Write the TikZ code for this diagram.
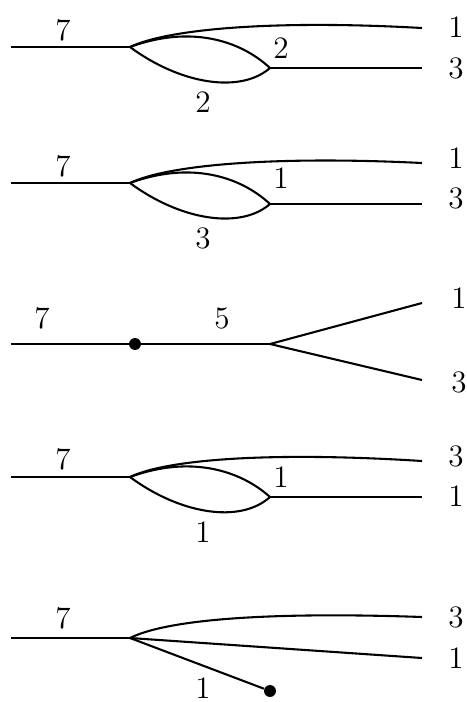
\documentclass[tikz,border=0pt]{standalone}
\usepackage{tikz}
\usetikzlibrary{calc, positioning}

\begin{document}
\begin{tikzpicture}[
  x=0.385pt, y=-0.385pt,
  leg/.style={line width=0.8pt},
  lbl/.style={inner sep=0pt, font=\fontsize{13}{15}\selectfont},
  blob/.style={circle, fill, inner sep=0pt, minimum size=4.6pt}
]
\useasboundingbox (0,0) rectangle (466,702);

% diagram 1
\coordinate (a0) at (11,47);
\coordinate (a1) at (130,47);
\coordinate (a2) at (270,68);
\coordinate (a3) at (422,28);
\coordinate (a4) at (422,68);
\draw[leg] (a0) -- (a1);
\draw[leg] (a1) .. controls (170,28) and (280,20) .. (a3);
\draw[leg] (a1) .. controls (190,25) and (240,40) .. (a2);
\draw[leg] (a1) .. controls (180,84) and (240,94) .. (a2);
\draw[leg] (a2) -- (a4);
\node[lbl] (la0) at (63,30) {$7$};
\node[lbl] (la1) at (281,48) {$2$};
\node[lbl] (la2) at (203,102) {$2$};
\node[lbl] (la3) at (456,27) {$1$};
\node[lbl] (la4) at (456,68) {$3$};

% diagram 2
\coordinate (b0) at (11,183);
\coordinate (b1) at (130,183);
\coordinate (b2) at (270,204);
\coordinate (b3) at (422,163);
\coordinate (b4) at (422,204);
\draw[leg] (b0) -- (b1);
\draw[leg] (b1) .. controls (170,164) and (280,156) .. (b3);
\draw[leg] (b1) .. controls (190,161) and (240,176) .. (b2);
\draw[leg] (b1) .. controls (180,220) and (240,230) .. (b2);
\draw[leg] (b2) -- (b4);
\node[lbl] (lb0) at (63,166) {$7$};
\node[lbl] (lb1) at (281,178) {$1$};
\node[lbl] (lb2) at (203,238) {$3$};
\node[lbl] (lb3) at (456,158) {$1$};
\node[lbl] (lb4) at (456,198) {$3$};

% diagram 3
\coordinate (c0) at (11,344);
\node[blob] (c1) at (135,344) {};
\coordinate (c2) at (270,344);
\coordinate (c3) at (422,303);
\coordinate (c4) at (422,380);
\draw[leg] (c0) -- (c1) -- (c2);
\draw[leg] (c2) -- (c3);
\draw[leg] (c2) -- (c4);
\node[lbl] (lc0) at (42,318) {$7$};
\node[lbl] (lc1) at (222,318) {$5$};
\node[lbl] (lc3) at (459,298) {$1$};
\node[lbl] (lc4) at (459,382) {$3$};

% diagram 4
\coordinate (d0) at (11,477);
\coordinate (d1) at (130,477);
\coordinate (d2) at (270,497);
\coordinate (d3) at (422,461);
\coordinate (d4) at (422,497);
\draw[leg] (d0) -- (d1);
\draw[leg] (d1) .. controls (170,458) and (280,452) .. (d3);
\draw[leg] (d1) .. controls (190,455) and (240,470) .. (d2);
\draw[leg] (d1) .. controls (180,514) and (240,524) .. (d2);
\draw[leg] (d2) -- (d4);
\node[lbl] (ld0) at (63,459) {$7$};
\node[lbl] (ld1) at (281,477) {$1$};
\node[lbl] (ld2) at (203,532) {$1$};
\node[lbl] (ld3) at (456,456) {$3$};
\node[lbl] (ld4) at (456,496) {$1$};

% diagram 5
\coordinate (e0) at (11,638);
\coordinate (e1) at (130,638);
\node[blob] (e2) at (270,691) {};
\coordinate (e3) at (422,617);
\coordinate (e4) at (422,658);
\draw[leg] (e0) -- (e1);
\draw[leg] (e1) .. controls (170,618) and (280,612) .. (e3);
\draw[leg] (e1) -- (e4);
\draw[leg] (e1) -- (e2);
\node[lbl] (le0) at (63,618) {$7$};
\node[lbl] (le2) at (203,688) {$1$};
\node[lbl] (le3) at (456,617) {$3$};
\node[lbl] (le4) at (456,658) {$1$};
\end{tikzpicture}
\end{document}
